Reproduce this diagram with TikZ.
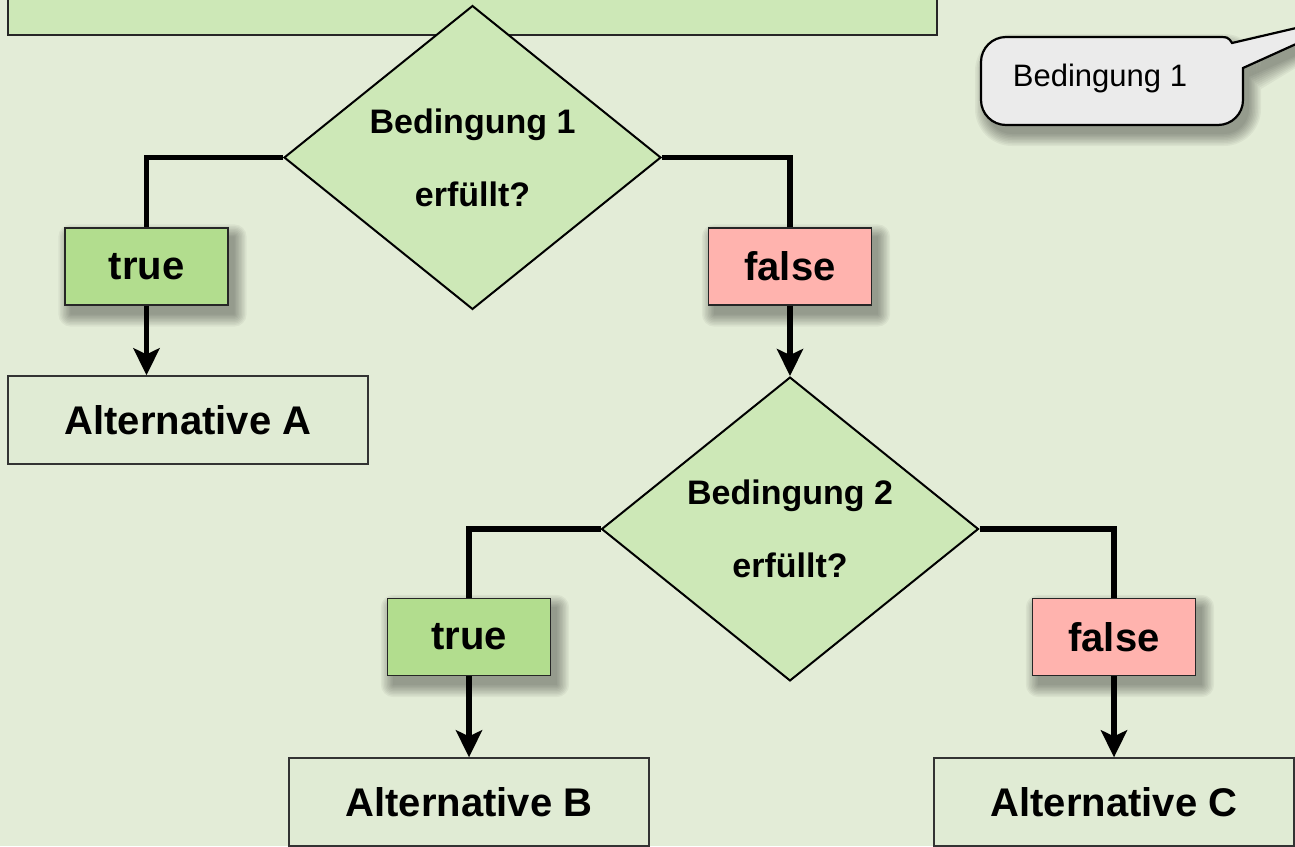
\documentclass[tikz,border=0pt]{standalone}
\usepackage{fontspec}
\setmainfont{Liberation Sans}
\usetikzlibrary{shapes.geometric,arrows.meta,calc}
\pgfdeclarelayer{bgl}
\pgfdeclarelayer{shl}
\pgfsetlayers{bgl,shl,main}
\definecolor{bgc}{HTML}{E3ECD7}
\definecolor{dfill}{HTML}{CDE8B7}
\definecolor{tfill}{HTML}{B2DD8E}
\definecolor{ffill}{HTML}{FFB3AE}
\definecolor{afill}{HTML}{E0EBD4}
\definecolor{cfill}{HTML}{EBEBEB}
\tikzset{
  decision/.style={diamond, draw=black, line width=2pt, fill=dfill, inner sep=0pt,
    minimum width=377pt, minimum height=302pt, align=center,
    font=\fontsize{34}{73}\selectfont\bfseries},
  flag/.style={draw=black!85, line width=1.3pt, minimum width=163pt, minimum height=77pt,
    inner sep=0pt, font=\fontsize{40}{44}\selectfont\bfseries},
  alt/.style={draw=black!80, line width=1.3pt, fill=afill, minimum width=360pt, minimum height=88pt,
    inner sep=0pt, font=\fontsize{40}{44}\selectfont\bfseries},
  conn/.style={line width=5.5pt, black},
  arr/.style={conn, -{Stealth[length=27pt, width=26pt, inset=6pt]}},
  shlayer/.style={black, fill opacity=0.045},
}
\newcommand{\myshadow}[1]{%
  \begin{pgfonlayer}{shl}
  \foreach \e in {0,1.5,...,12}{%
    \fill[shlayer, rounded corners=\e pt+0.5pt]
      ($(#1.south west)+(6-\e,-9-\e)$) rectangle ($(#1.north east)+(6+\e,-9+\e)$);
  }
  \end{pgfonlayer}}
\begin{document}
\begin{tikzpicture}[x=1pt,y=1pt]
\useasboundingbox (0,0) rectangle (1295,-846);
\clip (0,0) rectangle (1295,-846);
\begin{pgfonlayer}{bgl}
\fill[bgc] (0,0) rectangle (1295,-846);
\end{pgfonlayer}
% top box
\node[draw=black!85, line width=1.3pt, fill=dfill, minimum width=929pt, minimum height=100pt, inner sep=0pt]
  (topbox) at (472.5,15) {};
% decisions
\node[decision] (d1) at (472.5,-157.5) {Bedingung 1\\erfüllt?};
\node[decision] (d2) at (790,-529) {Bedingung 2\\erfüllt?};
% flags
\node[flag, fill=tfill] (t1) at (146.5,-266.5) {true};
\node[flag, fill=ffill] (f1) at (790,-266.5) {false};
\node[flag, fill=tfill] (t2) at (469,-637) {true};
\node[flag, fill=ffill] (f2) at (1114,-637) {false};
\myshadow{t1}\myshadow{f1}\myshadow{t2}\myshadow{f2}
% alternatives
\node[alt] (aA) at (188,-420) {Alternative A};
\node[alt] (aB) at (469,-802) {Alternative B};
\node[alt] (aC) at (1114,-802) {Alternative C};
% connectors
\draw[conn] (d1.west) -| (t1.north);
\draw[arr] (t1.south) -- (t1.south |- aA.north);
\draw[conn] (d1.east) -| (f1.north);
\draw[arr] (f1.south) -- (d2.north);
\draw[conn] (d2.west) -| (t2.north);
\draw[arr] (t2.south) -- (aB.north);
\draw[conn] (d2.east) -| (f2.north);
\draw[arr] (f2.south) -- (aC.north);
% callout
\coordinate (tip) at (1369,-11);
\begin{pgfonlayer}{shl}
\foreach \e in {0,1.5,...,12}{%
  \fill[shlayer, rounded corners=25pt+\e pt] (981+6-\e,-125-9-\e) rectangle (1243+6+\e,-37-9+\e);
  \fill[shlayer] (1232+6,-43-9+\e) -- (1369+6,-11-9) -- (1243+6+\e,-68-9-\e) -- (1243+6+\e,-46+\e) -- cycle;
}
\end{pgfonlayer}
\path[draw=black, line width=2.2pt, fill=cfill]
  (1232,-43) -- (tip) -- (1243,-68) -- (1243,-100) arc (0:-90:25) -- (1006,-125)
  arc (270:180:25) -- (981,-62) arc (180:90:25) -- (1216,-37) .. controls (1228,-37) .. (1232,-43) -- cycle;
\node[font=\fontsize{31}{34}\selectfont, inner sep=0pt] (callout) at (1100,-78) {Bedingung 1};
\end{tikzpicture}
\end{document}
